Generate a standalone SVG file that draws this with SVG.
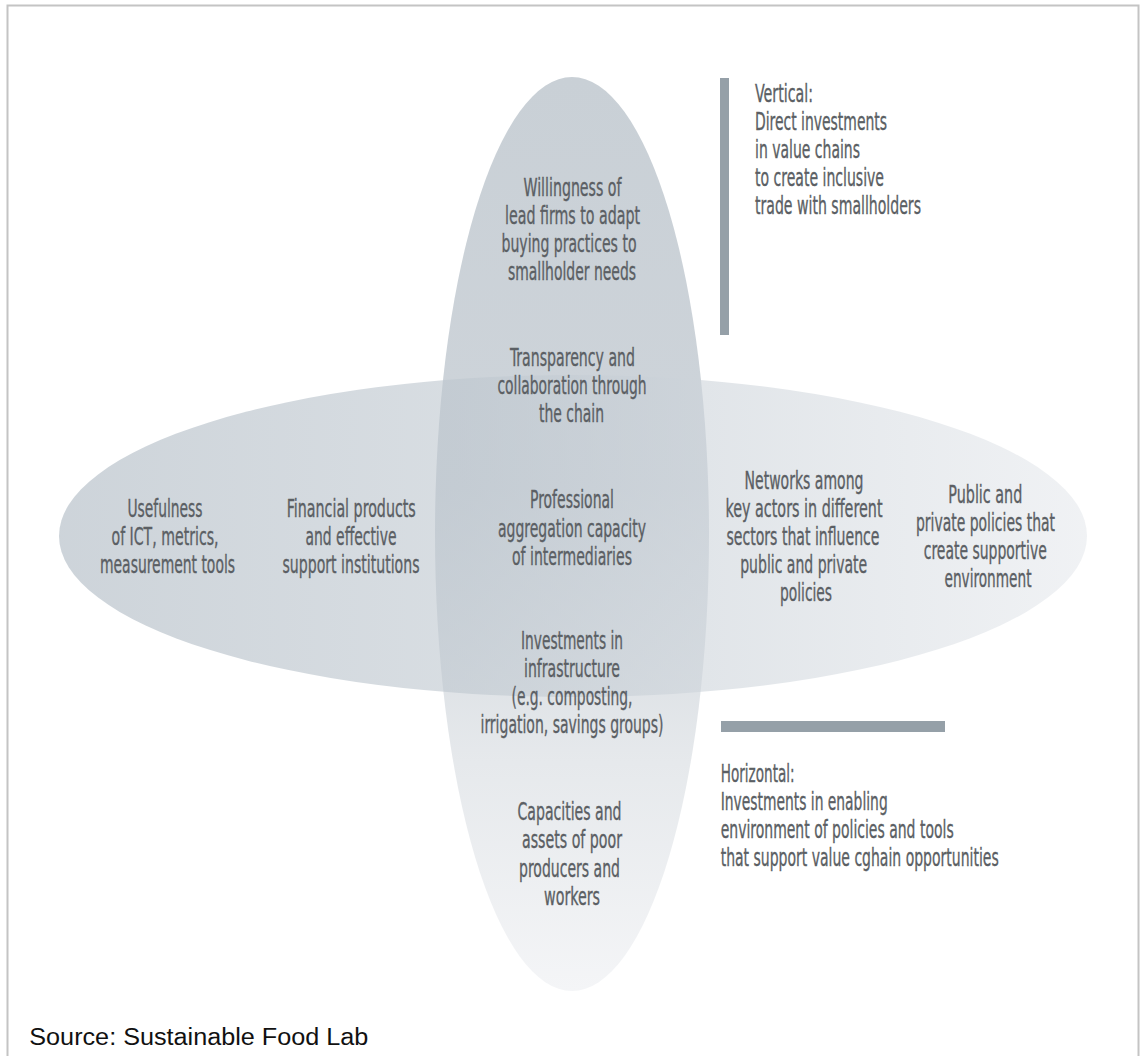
<svg xmlns="http://www.w3.org/2000/svg" width="1144" height="1056" viewBox="0 0 1144 1056">
<defs>
<style>
.t{font-family:"Liberation Sans Narrow","DejaVu Sans Condensed","Liberation Sans",sans-serif;font-size:24px;fill:#5b5f64;stroke:#5b5f64;stroke-width:0.35;text-anchor:middle;}
.l{text-anchor:start;}
.src{font-family:"Liberation Sans",Arial,sans-serif;font-size:23px;fill:#111;}
.bar{fill:#95a0a8;}
</style>
<linearGradient id="gv" x1="0" y1="0" x2="0" y2="1">
<stop offset="0" stop-color="#c9d0d6"/>
<stop offset="0.45" stop-color="#ced4da"/>
<stop offset="0.75" stop-color="#e6e9ec"/>
<stop offset="1" stop-color="#f4f5f7"/>
</linearGradient>
<linearGradient id="gh" x1="0" y1="0" x2="1" y2="0">
<stop offset="0" stop-color="#acb7c1"/>
<stop offset="0.4" stop-color="#bec7cf"/>
<stop offset="1" stop-color="#e6e9ed"/>
</linearGradient>
</defs>
<rect x="7.5" y="5.5" width="1131" height="1070" fill="#fff" stroke="#c4c4c4" stroke-width="2"/>
<g id="shapes">
<ellipse id="vertical-ellipse" cx="572" cy="534" rx="137" ry="457" fill="url(#gv)"/>
<ellipse id="horizontal-ellipse" cx="573" cy="536" rx="514" ry="161" fill="url(#gh)" fill-opacity="0.6"/>
</g>
<g id="legend">
<rect class="bar" x="720" y="78" width="9" height="257"/>
<rect class="bar" x="721" y="721" width="224" height="11"/>
</g>
<g id="node-willingness">
<text class="t" x="572.5" y="196" textLength="98" lengthAdjust="spacingAndGlyphs">Willingness of</text>
<text class="t" x="572.5" y="224" textLength="135" lengthAdjust="spacingAndGlyphs">lead firms to adapt</text>
<text class="t" x="569" y="252" textLength="135" lengthAdjust="spacingAndGlyphs">buying practices to</text>
<text class="t" x="572" y="280" textLength="128" lengthAdjust="spacingAndGlyphs">smallholder needs</text>
</g>
<g id="node-transparency">
<text class="t" x="572.5" y="366" textLength="125" lengthAdjust="spacingAndGlyphs">Transparency and</text>
<text class="t" x="572" y="394" textLength="149" lengthAdjust="spacingAndGlyphs">collaboration through</text>
<text class="t" x="571.5" y="422" textLength="65" lengthAdjust="spacingAndGlyphs">the chain</text>
</g>
<g id="node-professional">
<text class="t" x="572" y="508" textLength="84" lengthAdjust="spacingAndGlyphs">Professional</text>
<text class="t" x="572" y="537" textLength="148" lengthAdjust="spacingAndGlyphs">aggregation capacity</text>
<text class="t" x="572" y="565" textLength="120" lengthAdjust="spacingAndGlyphs">of intermediaries</text>
</g>
<g id="node-infrastructure">
<text class="t" x="572" y="649" textLength="102" lengthAdjust="spacingAndGlyphs">Investments in</text>
<text class="t" x="572" y="677" textLength="96" lengthAdjust="spacingAndGlyphs">infrastructure</text>
<text class="t" x="572" y="705" textLength="121" lengthAdjust="spacingAndGlyphs">(e.g. composting,</text>
<text class="t" x="572" y="733" textLength="183" lengthAdjust="spacingAndGlyphs">irrigation, savings groups)</text>
</g>
<g id="node-capacities">
<text class="t" x="569.5" y="820" textLength="104" lengthAdjust="spacingAndGlyphs">Capacities and</text>
<text class="t" x="572" y="848" textLength="100" lengthAdjust="spacingAndGlyphs">assets of poor</text>
<text class="t" x="569.5" y="877" textLength="101" lengthAdjust="spacingAndGlyphs">producers and</text>
<text class="t" x="572" y="905" textLength="56" lengthAdjust="spacingAndGlyphs">workers</text>
</g>
<g id="node-usefulness">
<text class="t" x="165" y="517" textLength="75" lengthAdjust="spacingAndGlyphs">Usefulness</text>
<text class="t" x="165" y="545" textLength="107" lengthAdjust="spacingAndGlyphs">of ICT, metrics,</text>
<text class="t" x="167.5" y="573" textLength="135" lengthAdjust="spacingAndGlyphs">measurement tools</text>
</g>
<g id="node-financial">
<text class="t" x="351.3" y="517" textLength="129" lengthAdjust="spacingAndGlyphs">Financial products</text>
<text class="t" x="351" y="545" textLength="91" lengthAdjust="spacingAndGlyphs">and effective</text>
<text class="t" x="351" y="573" textLength="137" lengthAdjust="spacingAndGlyphs">support institutions</text>
</g>
<g id="node-networks">
<text class="t" x="804" y="489" textLength="119" lengthAdjust="spacingAndGlyphs">Networks among</text>
<text class="t" x="804" y="517" textLength="157" lengthAdjust="spacingAndGlyphs">key actors in different</text>
<text class="t" x="803" y="545" textLength="153" lengthAdjust="spacingAndGlyphs">sectors that influence</text>
<text class="t" x="803.7" y="573" textLength="127" lengthAdjust="spacingAndGlyphs">public and private</text>
<text class="t" x="806" y="601" textLength="52" lengthAdjust="spacingAndGlyphs">policies</text>
</g>
<g id="node-public">
<text class="t" x="985.3" y="503" textLength="74" lengthAdjust="spacingAndGlyphs">Public and</text>
<text class="t" x="985.5" y="531" textLength="139" lengthAdjust="spacingAndGlyphs">private policies that</text>
<text class="t" x="985.3" y="559" textLength="123" lengthAdjust="spacingAndGlyphs">create supportive</text>
<text class="t" x="988" y="587" textLength="87" lengthAdjust="spacingAndGlyphs">environment</text>
</g>
<g id="label-vertical">
<text class="t l" x="755" y="102" textLength="58" lengthAdjust="spacingAndGlyphs">Vertical:</text>
<text class="t l" x="755" y="130" textLength="132" lengthAdjust="spacingAndGlyphs">Direct investments</text>
<text class="t l" x="755" y="158" textLength="105" lengthAdjust="spacingAndGlyphs">in value chains</text>
<text class="t l" x="755" y="186" textLength="129" lengthAdjust="spacingAndGlyphs">to create inclusive</text>
<text class="t l" x="755" y="214" textLength="166" lengthAdjust="spacingAndGlyphs">trade with smallholders</text>
</g>
<g id="label-horizontal">
<text class="t l" x="720.7" y="782" textLength="74" lengthAdjust="spacingAndGlyphs">Horizontal:</text>
<text class="t l" x="720.7" y="810" textLength="167" lengthAdjust="spacingAndGlyphs">Investments in enabling</text>
<text class="t l" x="720.7" y="838" textLength="233" lengthAdjust="spacingAndGlyphs">environment of policies and tools</text>
<text class="t l" x="720.7" y="866" textLength="278" lengthAdjust="spacingAndGlyphs">that support value cghain opportunities</text>
</g>
<g id="source">
<text class="src" x="29.3" y="1045" textLength="339" lengthAdjust="spacingAndGlyphs">Source: Sustainable Food Lab</text>
</g>
</svg>
